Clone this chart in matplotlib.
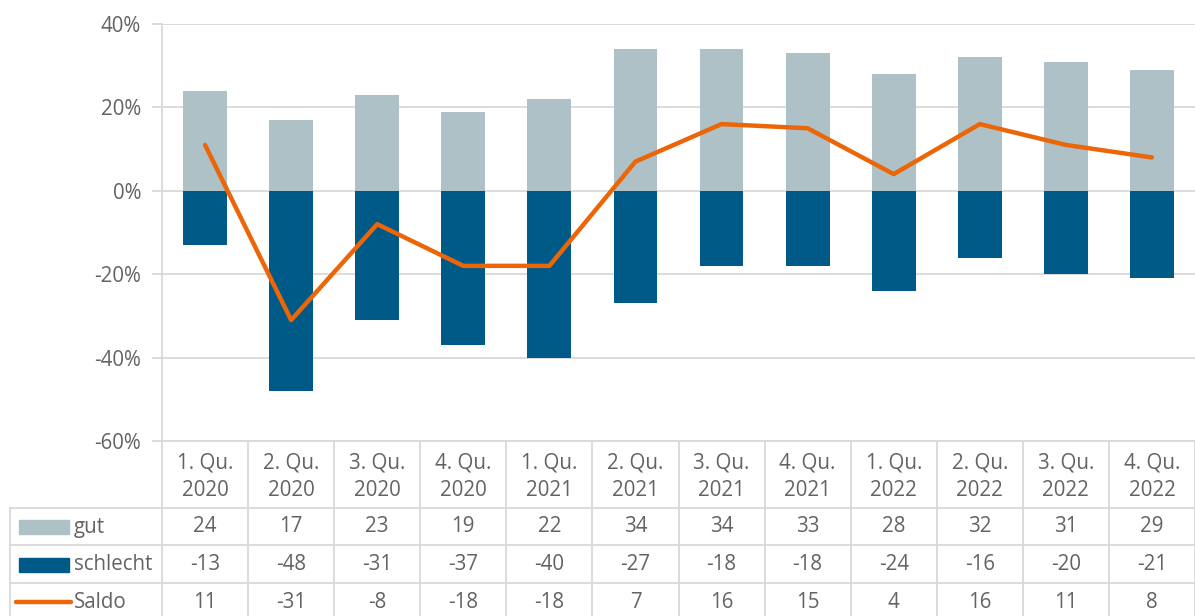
import numpy as np
import matplotlib
matplotlib.use('Agg')
from matplotlib import pyplot as plt
from matplotlib.patches import Rectangle

plt.rcParams['font.family'] = ['Open Sans', 'DejaVu Sans']

quarters = ['1. Qu.\n2020', '2. Qu.\n2020', '3. Qu.\n2020', '4. Qu.\n2020',
            '1. Qu.\n2021', '2. Qu.\n2021', '3. Qu.\n2021', '4. Qu.\n2021',
            '1. Qu.\n2022', '2. Qu.\n2022', '3. Qu.\n2022', '4. Qu.\n2022']
gut = [24, 17, 23, 19, 22, 34, 34, 33, 28, 32, 31, 29]
schlecht = [-13, -48, -31, -37, -40, -27, -18, -18, -24, -16, -20, -21]
saldo = [11, -31, -8, -18, -18, 7, 16, 15, 4, 16, 11, 8]
yticks = [-60, -40, -20, 0, 20, 40]

c_gut = '#adc1c7'
c_schl = '#005a87'
c_saldo = '#ec6608'
c_grid = '#d9d9d9'
c_text = '#636363'
fs = 14.8

W, H = 1195, 616
fig = plt.figure(figsize=(W / 100, H / 100), dpi=100)

# main chart
ax = fig.add_axes([162 / W, 175 / H, 1033 / W, 417 / H])
x = np.arange(len(quarters))
ax.bar(x, gut, width=0.51, color=c_gut, zorder=2)
ax.bar(x, schlecht, width=0.51, color=c_schl, zorder=2)
ax.plot(x, saldo, color=c_saldo, lw=3.2, solid_capstyle='round', zorder=3)
ax.set_xlim(-0.5, len(quarters) - 0.5)
ax.set_ylim(-60, 40)
ax.set_yticks(yticks)
ax.set_yticklabels([f'{v}%' for v in yticks])
ax.set_xticks([])
ax.grid(axis='y', color=c_grid, lw=1.3, zorder=0)
for s in ['top', 'right', 'bottom']:
    ax.spines[s].set_visible(False)
ax.spines['left'].set_color(c_grid)
ax.spines['left'].set_linewidth(1.3)
ax.tick_params(axis='y', length=7, width=1.3, color=c_grid, labelcolor=c_text,
               labelsize=fs, pad=8)

# data table below
tab = fig.add_axes([162 / W, 0, 1033 / W, 175 / H])
tab.set_xlim(ax.get_xlim())
tab.set_ylim(175, 0)
tab.axis('off')
row_y = [0, 67, 104, 142]
for i in range(len(quarters) + 1):
    tab.plot([i - 0.5, i - 0.5], [0, 175], color=c_grid, lw=1.3, clip_on=False)
for y in row_y:
    tab.plot([-0.5, len(quarters) - 0.5], [y, y], color=c_grid, lw=1.3, clip_on=False)

for i, q in enumerate(quarters):
    top, bot = q.split('\n')
    tab.text(i, 22, top, ha='center', va='center', color=c_text, fontsize=fs)
    tab.text(i, 49, bot, ha='center', va='center', color=c_text, fontsize=fs)
    tab.text(i, 86, str(gut[i]), ha='center', va='center', color=c_text, fontsize=fs)
    tab.text(i, 124, str(schlecht[i]), ha='center', va='center', color=c_text, fontsize=fs)
    tab.text(i, 161, str(saldo[i]), ha='center', va='center', color=c_text, fontsize=fs)

# legend column
leg = fig.add_axes([0, 0, 162 / W, 175 / H])
leg.set_xlim(0, 162)
leg.set_ylim(175, 0)
leg.axis('off')
leg.plot([10, 10], [67, 175], color=c_grid, lw=1.3, clip_on=False)
for y in row_y[1:]:
    leg.plot([10, 162], [y, y], color=c_grid, lw=1.3, clip_on=False)
leg.add_patch(Rectangle((19, 79), 50, 14, color=c_gut))
leg.add_patch(Rectangle((19, 117), 50, 14, color=c_schl))
leg.plot([16, 71], [161, 161], color=c_saldo, lw=3.2, solid_capstyle='round')
leg.text(74, 86, 'gut', ha='left', va='center', color=c_text, fontsize=fs)
leg.text(74, 124, 'schlecht', ha='left', va='center', color=c_text, fontsize=fs)
leg.text(74, 161, 'Saldo', ha='left', va='center', color=c_text, fontsize=fs)

fig.savefig('out.png', dpi=100)
